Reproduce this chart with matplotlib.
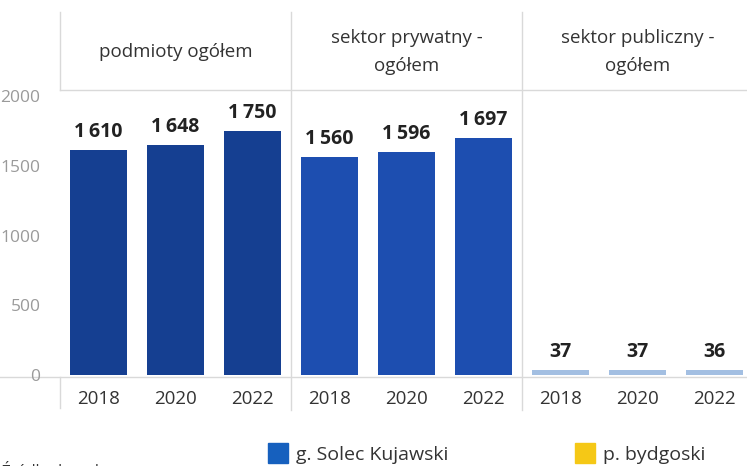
import matplotlib.pyplot as plt
from matplotlib.lines import Line2D
from matplotlib.patches import Rectangle

plt.rcParams['font.family'] = ['Open Sans', 'DejaVu Sans']

# data
years = ['2018', '2020', '2022']
panels = ['podmioty ogółem', 'sektor prywatny -\nogółem', 'sektor publiczny -\nogółem']
podmioty = [1610, 1648, 1750]
prywatny = [1560, 1596, 1697]
publiczny = [37, 37, 36]
series = [podmioty, prywatny, publiczny]
bar_colors = ['#153f91', '#1d4eb0', '#a3bfe2']
legend_labels = ['g. Solec Kujawski', 'p. bydgoski']
legend_colors = ['#1660be', '#f5c816']
yticks = [0, 500, 1000, 1500, 2000]

W, H = 747, 466
fig = plt.figure(figsize=(W / 100, H / 100), dpi=100)

# background axes in pixel coords for frames and legend
bg = fig.add_axes([0, 0, 1, 1])
bg.set_xlim(0, W)
bg.set_ylim(H, 0)
bg.axis('off')

def fx(x):
    return x / W

def fy(y):
    return 1 - y / H

left = [60, 291, 522]
pw = 231
top, bottom = 90, 377

for i, vals in enumerate(series):
    ax = fig.add_axes([fx(left[i]), fy(bottom), pw / W, (bottom - top) / H])
    x = range(len(years))
    bars = ax.bar(x, vals, width=0.75, color=bar_colors[i])
    ax.set_xlim(-0.5, 2.5)
    ax.set_ylim(-14, 2043)
    for b, v in zip(bars, vals):
        lab = f'{v:,}'.replace(',', '\u2009')
        ax.annotate(lab, (b.get_x() + b.get_width() / 2, v), xytext=(0, 6),
                    textcoords='offset points', ha='center', va='bottom',
                    fontsize=14, fontweight='bold', color='#222222')
    ax.set_xticks(list(x))
    ax.set_xticklabels(years, fontsize=13.5, color='#333333')
    ax.tick_params(axis='x', length=0, pad=9)
    if i == 0:
        ax.set_yticks(yticks)
        ax.set_yticklabels([str(t) for t in yticks], fontsize=12.5, color='#9a9a9a')
        ax.tick_params(axis='y', length=0, pad=14)
    else:
        ax.set_yticks([])
    for s in ax.spines.values():
        s.set_visible(False)
    ax.patch.set_alpha(0)
    # panel header
    bg.text(left[i] + pw / 2, 52, panels[i], ha='center', va='center',
            fontsize=13.5, color='#333333', linespacing=1.75)

# frame lines
lc = '#d9d9d9'
bg.add_line(Line2D([60, 60], [12, 90], color=lc, lw=1))
bg.add_line(Line2D([60, 60], [377, 408], color=lc, lw=1))
bg.add_line(Line2D([60, W], [90, 90], color=lc, lw=1))
bg.add_line(Line2D([0, W], [377, 377], color=lc, lw=1))
for xl in left[1:]:
    bg.add_line(Line2D([xl, xl], [12, 410], color=lc, lw=1))

# legend
for (lx, lab), col in zip([(268, legend_labels[0]), (575, legend_labels[1])], legend_colors):
    bg.add_patch(Rectangle((lx, 443), 20, 20, color=col))
    bg.text(lx + 28, 455, lab, ha='left', va='center', fontsize=14, color='#333333')

# source note (cut off at bottom, as in the scan)
bg.text(2, 461, 'Źródło danych', ha='left', va='top', fontsize=11, color='#333333')

fig.savefig('out.png', dpi=100)
